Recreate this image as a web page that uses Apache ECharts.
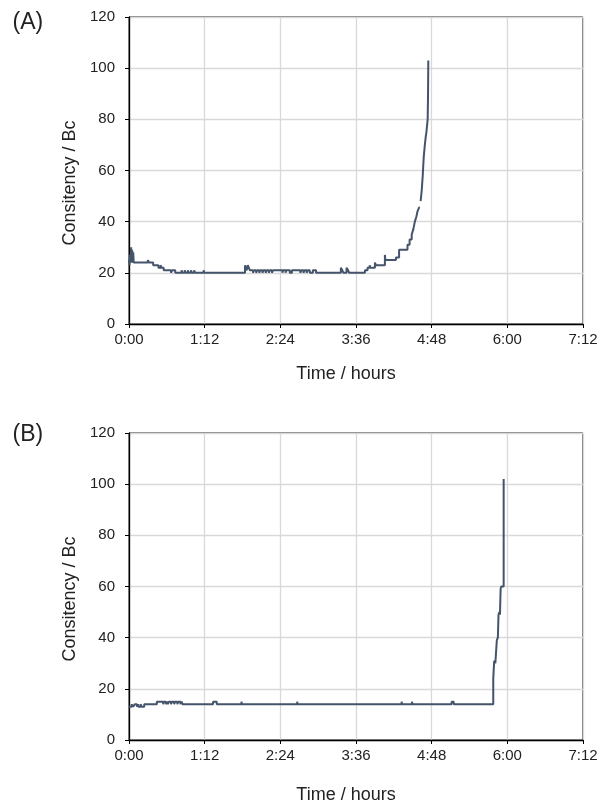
<!DOCTYPE html>
<html>
<head>
<meta charset="utf-8">
<script src="https://cdn.jsdelivr.net/npm/echarts@6/dist/echarts.min.js"></script>
<style>
html,body{margin:0;padding:0;background:#fff;}
#c{width:613px;height:805px;}
</style>
</head>
<body>
<div id="c"></div>
<script>
// Time in minutes, consistency in Bc
const panelLabels = ['(A)', '(B)'];
const xTickMinutes = [0, 72, 144, 216, 288, 360, 432];
const yTicks = [0, 20, 40, 60, 80, 100, 120];
const xAxisTitle = 'Time / hours';
const yAxisTitle = 'Consitency / Bc';

const seriesA = [
  [0,25],[0.5,23],[1,27],[1.5,24],[2,30],[2.5,25],[3,29],[3.5,24],[4,28],[4.5,24],
  [18,25],[19,24],[23,23],[28,22],[30,23],[31,22],[33,21],[40,20],[41,21],[44,20],
  [50,21],[51,20],[53,21],[54,20],[56,21],[57,20],[59,21],[60,20],[62,21],[63,20],
  [71,21],[71.6,20],
  [110.4,23],[111,22],[112,21],[113,23],[114,22],[115,21],[118,20],[119,21],[121,20],[122,21],
  [124,20],[125,21],[127,20],[128,21],[130,20],[131,21],[133,20],[134,21],[136,20],[137,21],
  [146,20],[146.6,21],[149,20],[149.6,21],[153,20],[155,21],[163,20],[164,21],[166,20],[167,21],
  [169,20],[170,21],[172,20],[175,21],[178,20],
  [201.6,22],[203,21],[204,20],[207,22],[208.5,21],[209.5,20],
  [224.5,21],[227,22],[229,23],[229.6,22],[234,24],[235,23],[241,23],[243.5,27],[244,25],
  [254,26],[257,29],[265,31],[267,33],[269,35],[270.5,37],[272,40],[273.5,42],[274.5,44],[276,45.5],
  [276.8,null],[277.5,48],[278.5,52],[279.5,58],[280.4,65],[281.5,70],[282.3,73],[283,75],
  [284.2,80],[284.5,88],[284.8,103]
];

const seriesB = [
  [0,13],[2.5,14],[4,13],[5.5,14],[7.5,13],[8.5,14],[9,13],[11,14],[12,13],[14.5,14],
  [26.5,15],[32.5,14],[33,15],[35,14],[36,15],[37,14],[38,15],[40,14],[41,15],[43,14],
  [44,15],[46,14],[47,15],[49,14],[50,15],[51,14],
  [80,15],[83.5,14],[107,15],[107.5,14],[160,15],[160.5,14],[259.4,15],[260,14],
  [269.3,15],[269.8,14],[307,15],[309,14],
  [346.6,24],[347.5,31],[348.6,30],[350,39],[351,40],[351.6,49],[352.5,50],[353,49],
  [353.6,59],[354.2,60],[356.5,102]
];

function fmtTime(m){
  const h = Math.floor(m/60);
  const mm = Math.round(m - h*60);
  return h + ':' + (mm < 10 ? '0' + mm : mm);
}

const font = 'Liberation Sans, Arial, sans-serif';
const grids = [
  {left:129, top:17, width:454, height:307},
  {left:129, top:433, width:454, height:310}
];
const nameGaps = [41, 46];

const chart = echarts.init(document.getElementById('c'), null, {renderer:'canvas'});
const option = {
  animation:false,
  backgroundColor:'#fff',
  title: panelLabels.map((t,i)=>({
    text:t, left:12.5, top: i===0 ? 11 : 423, padding:0,
    textStyle:{fontFamily:font, fontSize:23, fontWeight:'normal', color:'#222'}
  })),
  grid: grids.map(g=>Object.assign({show:true, borderColor:'#000', borderWidth:1, backgroundColor:'transparent'}, g)),
  xAxis: grids.map((g,i)=>({
    type:'value', gridIndex:i, min:xTickMinutes[0], max:xTickMinutes[xTickMinutes.length-1], interval:72,
    name:xAxisTitle, nameLocation:'middle', nameGap:nameGaps[i],
    nameTextStyle:{fontFamily:font, fontSize:18, color:'#222', padding:[0,20,0,0]},
    axisLine:{show:true, onZero:false, lineStyle:{color:'#000', width:1.3}},
    axisTick:{show:true, length:4, lineStyle:{color:'#000'}},
    axisLabel:{fontFamily:font, fontSize:15, color:'#222', margin:8, formatter:fmtTime},
    splitLine:{show:true, lineStyle:{color:'#d9d9d9', width:1.3}}
  })),
  yAxis: grids.map((g,i)=>({
    type:'value', gridIndex:i, min:yTicks[0], max:yTicks[yTicks.length-1], interval:20,
    name:yAxisTitle, nameLocation:'middle', nameGap:42, nameRotate:90,
    nameTextStyle:{fontFamily:font, fontSize:18, color:'#222', padding:[0,25,0,0]},
    axisLine:{show:true, onZero:false, lineStyle:{color:'#000', width:1.3}},
    axisTick:{show:true, length:4, lineStyle:{color:'#000'}},
    axisLabel:{fontFamily:font, fontSize:15, color:'#222', margin:14},
    splitLine:{show:true, lineStyle:{color:'#d9d9d9', width:1.3}}
  })),
  series: [seriesA, seriesB].map((d,i)=>({
    type:'line', xAxisIndex:i, yAxisIndex:i, data:d, step:'end',
    showSymbol:false, connectNulls:false,
    lineStyle:{color:'#44546a', width:2}
  }))
};
chart.setOption(option);
</script>
</body>
</html>
